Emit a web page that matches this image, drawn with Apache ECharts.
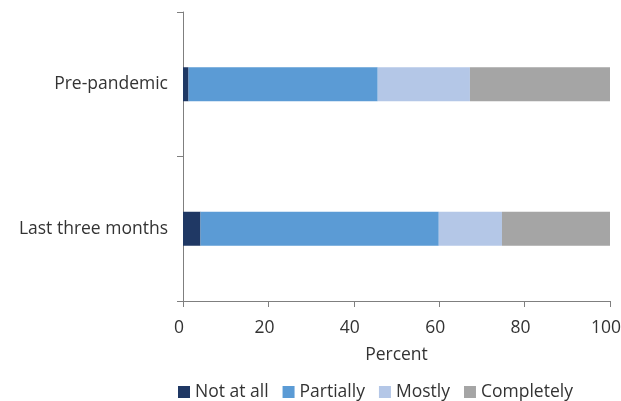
<!DOCTYPE html>
<html><head><meta charset="utf-8">
<script src="https://cdn.jsdelivr.net/npm/echarts@6/dist/echarts.min.js"></script>
<style>html,body{margin:0;padding:0;background:#fff}#c{width:621px;height:401px}</style>
</head><body><div id="c"></div>
<script>
const categories = ["Pre-pandemic", "Last three months"];
const seriesNames = ["Not at all", "Partially", "Mostly", "Completely"];
const notAtAll = [1.3, 4.1];
const partially = [44.3, 55.8];
const mostly = [21.6, 14.8];
const completely = [32.8, 25.3];
const xTicks = [0, 20, 40, 60, 80, 100];
const colors = ["#1f3864", "#5b9bd5", "#b4c7e7", "#a5a5a5"];
const values = [notAtAll, partially, mostly, completely];

const font = "'Open Sans', sans-serif";
const fs = 17.5;
const chart = echarts.init(document.getElementById('c'), null, {renderer: 'canvas'});
chart.setOption({
  animation: false,
  textStyle: {fontFamily: font},
  grid: {left: 183, right: 11, top: 12, bottom: 100, containLabel: false, outerBoundsMode: 'none'},
  legend: {
    top: 378, left: 173,
    data: seriesNames,
    icon: 'rect', itemWidth: 12, itemHeight: 12, itemGap: 14,
    textStyle: {fontFamily: font, fontSize: fs, color: '#333'}
  },
  xAxis: {
    type: 'value', min: 0, max: 100, interval: 20,
    name: 'Percent', nameLocation: 'middle', nameGap: 45,
    nameTextStyle: {fontFamily: font, fontSize: fs, color: '#333'},
    axisLine: {show: true, lineStyle: {color: '#7f7f7f', width: 1}},
    axisTick: {show: true, length: 6, lineStyle: {color: '#7f7f7f'}},
    axisLabel: {fontFamily: font, fontSize: fs, color: '#333', margin: 18, padding: [0, 8, 0, 0],
      formatter: v => xTicks.includes(v) ? String(v) : ''},
    splitLine: {show: false}
  },
  yAxis: {
    type: 'category', data: categories, inverse: true,
    axisLine: {show: true, lineStyle: {color: '#7f7f7f', width: 1}},
    axisTick: {show: true, length: 6, lineStyle: {color: '#7f7f7f'}},
    axisLabel: {fontFamily: font, fontSize: fs, color: '#333', margin: 15},
    splitLine: {show: false}
  },
  series: seriesNames.map((n, i) => ({
    name: n, type: 'bar', stack: 'total', barWidth: 34,
    itemStyle: {color: colors[i]},
    data: values[i]
  }))
});
</script></body></html>
